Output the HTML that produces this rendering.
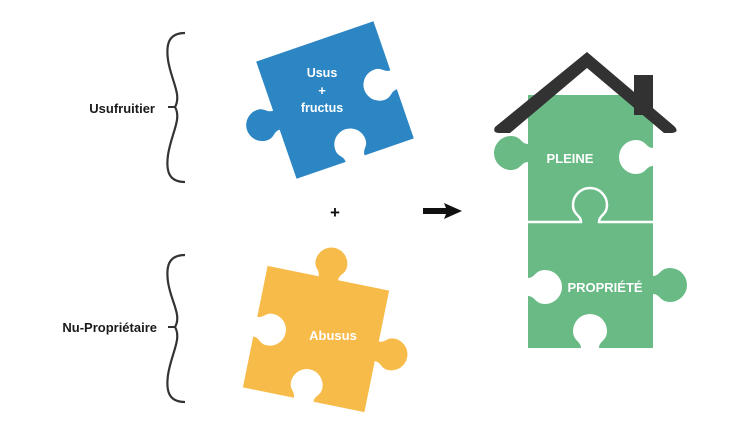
<!DOCTYPE html>
<html><head><meta charset="utf-8"><style>
html,body{margin:0;padding:0;background:#fff;}
svg{display:block;}
text{font-family:"Liberation Sans",sans-serif;font-weight:bold;}
</style></head><body>
<svg width="749" height="437" viewBox="0 0 749 437" xmlns="http://www.w3.org/2000/svg">
<!-- braces -->
<path d="M185,33 C168,33 166,45 168,60 C171,80 182,95 175,107 C182,119 171,134 168,155 C166,170 168,182 185,182" fill="none" stroke="#333" stroke-width="2.2"/>
<path d="M185,255 C168,255 166,267 168,282 C171,302 182,315 175,327 C182,339 171,354 168,375 C166,390 168,402 185,402" fill="none" stroke="#333" stroke-width="2.2"/>
<path d="M168,107 L176,107" stroke="#333" stroke-width="2"/>
<path d="M168,327 L176,327" stroke="#333" stroke-width="2"/>
<text x="155" y="113" font-size="13" text-anchor="end" fill="#1a1a1a">Usufruitier</text>
<text x="157" y="332" font-size="13" text-anchor="end" fill="#1a1a1a">Nu-Propriétaire</text>

<!-- blue piece -->
<path transform="translate(335,100) rotate(-19)" fill="#2b86c3"
 d="M-62,-62 L62,-62
 L62,-10 C55,-10 55,-16 47,-16 A16 16 0 1 0 47,16 C55,16 55,10 62,10 L62,62
 L10,62 C10,55 16,55 16,47 A16 16 0 1 0 -16,47 C-16,55 -10,55 -10,62 L-62,62
 L-62,10 C-69,10 -69,16 -77,16 A16 16 0 1 1 -77,-16 C-69,-16 -69,-10 -62,-10 Z"/>
<text x="322" y="77" font-size="12.5" text-anchor="middle" fill="#fff">Usus</text>
<text x="322" y="95" font-size="13" text-anchor="middle" fill="#fff">+</text>
<text x="322" y="112" font-size="12.5" text-anchor="middle" fill="#fff">fructus</text>

<!-- plus & arrow -->
<text x="335" y="218" font-size="17" text-anchor="middle" fill="#111">+</text>
<path d="M423,208 L446,208 L444,203 L462,211 L444,219 L446,214 L423,214 Z" fill="#111"/>

<!-- yellow piece -->
<path transform="translate(316,339) rotate(11.5)" fill="#f7bb4a"
 d="M-62,-62 L-10,-62 C-10,-69 -16,-69 -16,-77 A16 16 0 1 1 16,-77 C16,-69 10,-69 10,-62 L62,-62
 L62,-10 C69,-10 69,-16 77,-16 A16 16 0 1 1 77,16 C69,16 69,10 62,10 L62,62
 L10,62 C10,55 16,55 16,47 A16 16 0 1 0 -16,47 C-16,55 -10,55 -10,62 L-62,62
 L-62,10 C-55,10 -55,16 -47,16 A16 16 0 1 0 -47,-16 C-55,-16 -55,-10 -62,-10 Z"/>
<text x="333" y="340" font-size="13" text-anchor="middle" fill="#fff">Abusus</text>

<!-- green house -->
<path fill="#69ba85"
 d="M528,95 L653,95
 L653,148 C646,148 646,140 636,140 A17 17 0 1 0 636,174 C646,174 646,166 653,166
 L653,276 C660,276 660,268 670,268 A17 17 0 1 1 670,302 C660,302 660,294 653,294 L653,348
 L599,348 C599,341 607,341 607,331 A17 17 0 1 0 573,331 C573,341 581,341 581,348 L528,348
 L528,296 C535,296 535,304 545,304 A17 17 0 1 0 545,270 C535,270 535,278 528,278
 L528,162 C521,162 521,170 511,170 A17 17 0 1 1 511,136 C521,136 521,144 528,144 Z"/>
<path d="M528,222 L581,222 C581,215 573,215 573,205 A17 17 0 1 1 607,205 C607,215 599,215 599,222 L653,222" fill="none" stroke="#fff" stroke-width="2.5"/>
<rect x="634" y="75" width="19" height="40" fill="#333233"/>
<path fill="#333233" d="M495,127 Q492,133 500,133 L510,133 L587,68 L664,133 L672,133 Q680,132 674,126 L587,52 Z"/>
<text x="570" y="163" font-size="13" text-anchor="middle" fill="#fff">PLEINE</text>
<text x="605" y="292" font-size="13" text-anchor="middle" fill="#fff">PROPRIÉTÉ</text>
</svg>
</body></html>
